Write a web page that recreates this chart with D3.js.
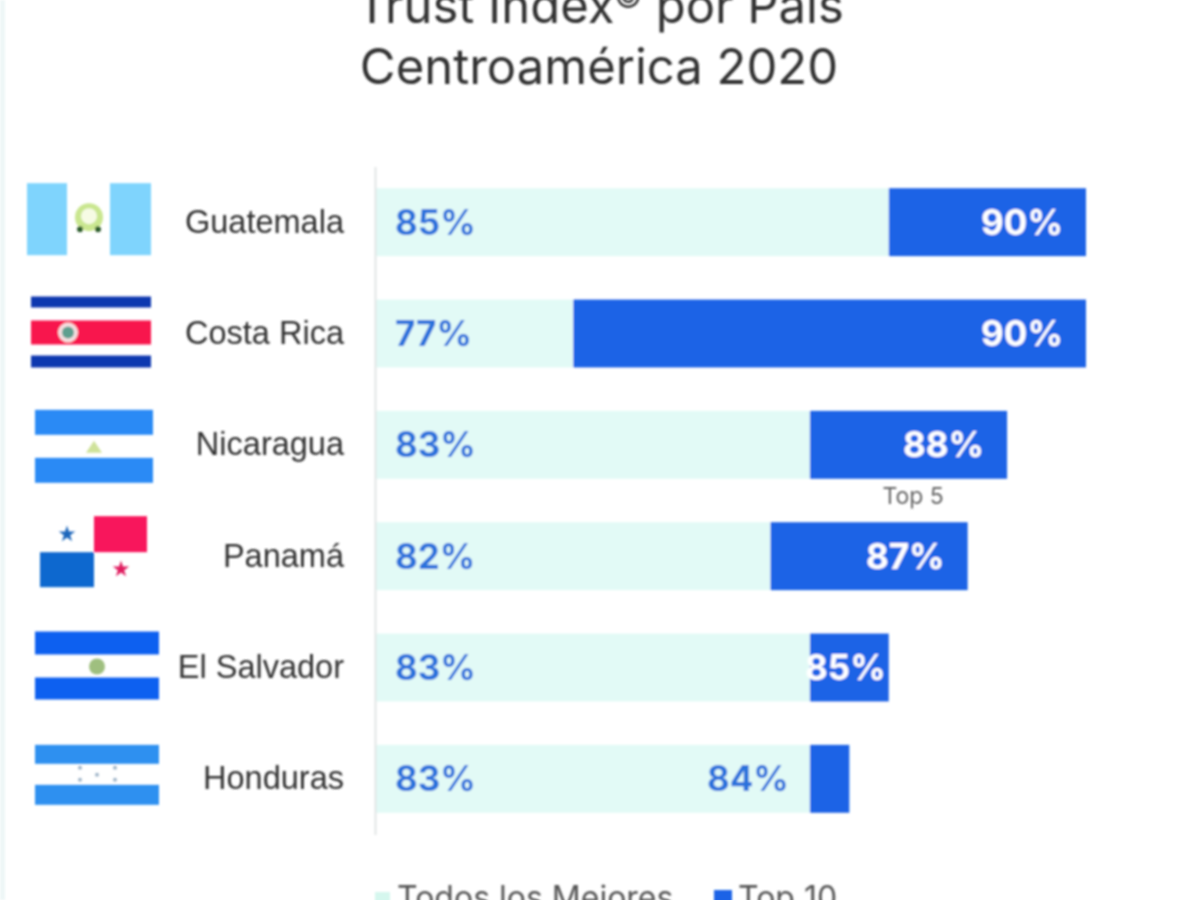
<!DOCTYPE html>
<html>
<head>
<meta charset="utf-8">
<script src="https://cdn.jsdelivr.net/npm/d3@7"></script>
<style>
html, body { margin: 0; padding: 0; background: #fff; overflow: hidden; }
svg { display: block; font-family: Inter, "Open Sans", sans-serif; }
</style>
</head>
<body>
<script>
var countries = ["Guatemala", "Costa Rica", "Nicaragua", "Panamá", "El Salvador", "Honduras"];
var todosValues = [85, 77, 83, 82, 83, 83];
var top10Values = [90, 90, 88, 87, 85, 84];
var titleLines = ["Trust Index", "Centroamérica 2020"];
var legendLabels = ["Todos los Mejores", "Top 10"];

var LIGHT = "#e2faf6", DARK = "#1f63e6", BLUE_TEXT = "#2a72dc", GREY_TEXT = "#333";

var svg = d3.select("body").append("svg").attr("width", 1200).attr("height", 900);

// source picture is a soft upscaled image, so everything gets a slight blur
svg.append("defs").append("filter").attr("id", "soft")
    .attr("x", "-5%").attr("y", "-5%").attr("width", "110%").attr("height", "110%")
    .append("feGaussianBlur").attr("stdDeviation", 0.9);

var root = svg.append("g").attr("filter", "url(#soft)");

root.append("rect").attr("x", 0).attr("y", 0).attr("width", 5).attr("height", 900).attr("fill", "#eef7f7");

var x = d3.scaleLinear().domain([72, 90]).range([376, 1086]);
var y = d3.scaleBand().domain(countries).range([166.5, 834.5]).paddingInner(0.39).paddingOuter(0.195);

var rows = countries.map(function(c, i) {
    return {country: c, todos: todosValues[i], top: top10Values[i]};
});

// title, the first line has a raised (c) mark
var title1 = root.append("text")
    .attr("x", 600).attr("y", 23)
    .attr("text-anchor", "middle")
    .attr("font-size", 49)
    .attr("fill", "#333");
title1.append("tspan").text(titleLines[0]);
title1.append("tspan").attr("font-size", 30).attr("dy", -15).text("©");
title1.append("tspan").attr("dy", 15).text(" por País");

root.append("text")
    .attr("x", 599).attr("y", 84)
    .attr("text-anchor", "middle")
    .attr("font-size", 49)
    .attr("fill", "#333")
    .text(titleLines[1]);

// bars
root.selectAll(".todos").data(rows).enter().append("rect")
    .attr("class", "todos")
    .attr("x", x(72))
    .attr("y", function(d) { return y(d.country); })
    .attr("width", function(d) { return x(d.todos) - x(72); })
    .attr("height", y.bandwidth())
    .attr("fill", LIGHT);

root.selectAll(".top").data(rows).enter().append("rect")
    .attr("class", "top")
    .attr("x", function(d) { return x(d.todos); })
    .attr("y", function(d) { return y(d.country); })
    .attr("width", function(d) { return x(d.top) - x(d.todos); })
    .attr("height", y.bandwidth())
    .attr("fill", DARK);

// axis with country names
var axis = root.append("g").attr("transform", "translate(375,0)")
    .call(d3.axisLeft(y).tickSize(0).tickPadding(31));
axis.select(".domain").attr("stroke", "#e2e6e6").attr("stroke-width", 2);
axis.selectAll("text").attr("font-size", 32.5).attr("font-family", "inherit").attr("fill", GREY_TEXT);

// value labels
var valueFont = 35;
root.selectAll(".todosLabel").data(rows).enter().append("text")
    .attr("class", "todosLabel")
    .attr("x", 395)
    .attr("y", function(d) { return y(d.country) + y.bandwidth() / 2 + 12.5; })
    .attr("font-size", valueFont).attr("font-weight", 700)
    .attr("fill", BLUE_TEXT)
    .text(function(d) { return d.todos + "%"; });

root.selectAll(".topLabel").data(rows).enter().append("text")
    .attr("class", "topLabel")
    .attr("x", function(d) {
        var w = x(d.top) - x(d.todos);
        if (w < 60) return x(d.todos) - 21;   // no room, sits left of the bar
        if (w < 100) return x(d.top) - 3;
        return x(d.top) - 23;
    })
    .attr("y", function(d) { return y(d.country) + y.bandwidth() / 2 + 12.5; })
    .attr("text-anchor", "end")
    .attr("font-size", valueFont).attr("font-weight", 700)
    .attr("fill", function(d) { return x(d.top) - x(d.todos) < 60 ? BLUE_TEXT : "#fff"; })
    .text(function(d) { return d.top + "%"; });

// small note under Nicaragua
root.append("text")
    .attr("x", x(88) - 94)
    .attr("y", y("Nicaragua") + y.bandwidth() + 25)
    .attr("text-anchor", "middle")
    .attr("font-size", 23).attr("fill", "#666")
    .text("Top 5");

// flags, all offsets from the row centre
function box(g, x0, y0, x1, y1, fill) {
    g.append("rect").attr("x", x0).attr("y", y0).attr("width", x1 - x0).attr("height", y1 - y0).attr("fill", fill);
}
function dot(g, cx, cy, r, fill) {
    g.append("circle").attr("cx", cx).attr("cy", cy).attr("r", r).attr("fill", fill);
}
function star(g, cx, cy, r, fill) {
    g.append("path").attr("transform", "translate(" + cx + "," + cy + ")")
        .attr("d", d3.symbol().type(d3.symbolStar).size(r * r * 2)()).attr("fill", fill);
}
var flagDrawers = {
    "Guatemala": function(g) {
        box(g, 27, -39, 67, 33, "#7fd4fd");
        box(g, 110, -39, 151, 33, "#7fd4fd");
        dot(g, 89, -5, 14, "#c9e68f");
        dot(g, 89, -6, 8, "#f6fbe4");
        dot(g, 80, 7, 3, "#2b5a2b");
        dot(g, 98, 7, 3, "#2b5a2b");
    },
    "Costa Rica": function(g) {
        box(g, 31, -37, 151, -26, "#1038b0");
        box(g, 31, -13, 151, 11, "#f8174e");
        box(g, 31, 22, 151, 34, "#1038b0");
        dot(g, 68, -1, 10, "#f6dfe0");
        dot(g, 68, -1, 6, "#5f9f8f");
    },
    "Nicaragua": function(g) {
        box(g, 35, -35, 153, -10, "#2b8af5");
        box(g, 35, 13, 153, 38, "#2b8af5");
        g.append("path").attr("d", "M86,8 L94,-4 L102,8 Z").attr("fill", "#cfe29a");
    },
    "Panamá": function(g) {
        box(g, 94, -40, 147, -4, "#f8195c");
        box(g, 40, -4, 94, 31, "#1068cf");
        star(g, 67, -22, 6.5, "#1f66bb");
        star(g, 121, 13, 6.5, "#e01c5e");
    },
    "El Salvador": function(g) {
        box(g, 35, -36, 159, -13, "#1060f0");
        box(g, 35, 10, 159, 32, "#1060f0");
        dot(g, 97, -1, 8, "#9fbf7f");
    },
    "Honduras": function(g) {
        box(g, 35, -34, 159, -15, "#2f90f0");
        box(g, 35, 6, 159, 26, "#2f90f0");
        [[80, -11], [115, -11], [97, -4], [80, 1], [115, 1]].forEach(function(p) {
            dot(g, p[0], p[1], 2, "#9fb4c8");
        });
    }
};
countries.forEach(function(c) {
    var g = root.append("g").attr("transform", "translate(0," + (y(c) + y.bandwidth() / 2) + ")");
    flagDrawers[c](g);
});

// legend, cut by the bottom of the picture like the original
root.append("rect").attr("x", 375).attr("y", 892).attr("width", 15).attr("height", 15).attr("fill", "#d5f7ee");
root.append("text").attr("x", 397).attr("y", 909).attr("font-size", 32).attr("fill", "#555").text(legendLabels[0]);
root.append("rect").attr("x", 714).attr("y", 890).attr("width", 18).attr("height", 18).attr("fill", DARK);
root.append("text").attr("x", 738).attr("y", 909).attr("font-size", 32).attr("fill", "#555").text(legendLabels[1]);
</script>
</body>
</html>
